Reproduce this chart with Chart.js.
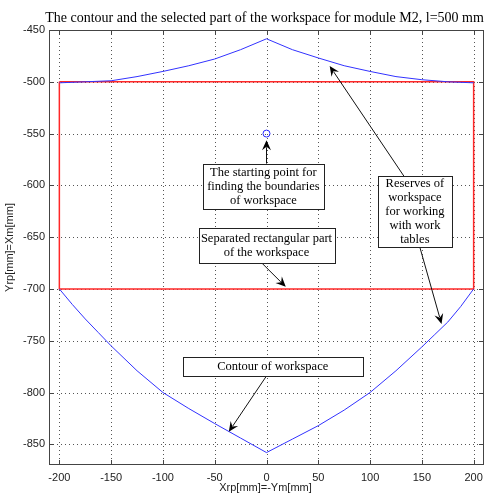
<!DOCTYPE html>
<html>
<head>
<meta charset="utf-8">
<script src="https://cdn.jsdelivr.net/npm/chart.js@4/dist/chart.umd.min.js"></script>
<style>
  html, body { margin: 0; padding: 0; background: #fff; }
  canvas { display: block; }
</style>
</head>
<body>
<canvas id="c" width="484" height="493"></canvas>
<script>
// Axis ticks
const xTicks = [-200, -150, -100, -50, 0, 50, 100, 150, 200];
const yTicks = [-850, -800, -750, -700, -650, -600, -550, -500, -450];

// Lower branch of the workspace contour
const lowerX = [-200, -187.5, -175, -162.5, -150, -125, -100, -75, -50, -25, 0, 25, 50, 75, 100, 125, 150, 162.5, 175, 187.5, 200];
const lowerY = [-700, -715, -729, -742, -755, -779, -800, -815.5, -830, -844, -858, -845, -832, -817, -800, -779, -756, -744, -732, -717, -700];

// Upper branch of the workspace contour
const upperX = [-200, -175, -150, -125, -100, -75, -50, -25, 0, 25, 50, 75, 100, 125, 150, 175, 200];
const upperY = [-501, -500, -499, -495, -490, -484.5, -478, -469, -458.5, -469, -477, -484.5, -490, -495, -498, -500, -501];

// Selected rectangular part of the workspace
const rectX = [-200, 200, 200, -200, -200];
const rectY = [-500, -500, -700, -700, -500];

// Starting point for the boundary search
const startX = [0];
const startY = [-550];

const pts = (xs, ys) => xs.map((x, i) => ({ x: x, y: ys[i] }));

// Text boxes: centre in data units, size in pixels
const notes = [
  { cx: -3, cy: -601, w: 121, h: 45, lines: ['The starting point for', 'finding the boundaries', 'of workspace'] },
  { cx: 0, cy: -658, w: 136, h: 35, lines: ['Separated rectangular part', 'of the workspace'] },
  { cx: 143.3, cy: -625, w: 74, h: 71, lines: ['Reserves of', 'workspace', 'for working', 'with work', 'tables'] },
  { cx: 6, cy: -775, w: 180, h: 19, lines: ['Contour of workspace'] }
];
// Arrows: from -> to, in data units
const arrows = [
  { x0: 0, y0: -579, x1: 0, y1: -556.5 },
  { x0: -4.5, y0: -675, x1: 18.6, y1: -698 },
  { x0: 132.6, y0: -591, x1: 61, y1: -484.7 },
  { x0: 148, y0: -659.5, x1: 169, y1: -733.8 },
  { x0: 0, y0: -784, x1: -36.4, y1: -838 }
];

const SERIF = '"Liberation Serif", "Times New Roman", serif';
const SANS = '"Liberation Sans", Arial, sans-serif';

const frame = {
  id: 'frame',
  beforeDatasetsDraw(chart) {
    const { ctx, chartArea: a, scales: { x, y } } = chart;
    ctx.save();
    ctx.strokeStyle = '#555';
    ctx.lineWidth = 1;
    ctx.setLineDash([1, 3]);
    xTicks.forEach(v => {
      const px = Math.round(x.getPixelForValue(v)) + 0.5;
      ctx.beginPath(); ctx.moveTo(px, a.top); ctx.lineTo(px, a.bottom); ctx.stroke();
    });
    yTicks.forEach(v => {
      const py = Math.round(y.getPixelForValue(v)) + 0.5;
      ctx.beginPath(); ctx.moveTo(a.left, py); ctx.lineTo(a.right, py); ctx.stroke();
    });
    ctx.restore();
  },
  afterDatasetsDraw(chart) {
    const { ctx, chartArea: a, scales: { x, y } } = chart;
    ctx.save();
    // axes box and inward ticks
    ctx.strokeStyle = '#444';
    ctx.lineWidth = 1;
    ctx.setLineDash([]);
    ctx.strokeRect(a.left + 0.5, a.top + 0.5, a.right - a.left - 1, a.bottom - a.top - 1);
    const tl = 5;
    ctx.beginPath();
    xTicks.forEach(v => {
      const px = Math.round(x.getPixelForValue(v)) + 0.5;
      ctx.moveTo(px, a.bottom); ctx.lineTo(px, a.bottom - tl);
      ctx.moveTo(px, a.top); ctx.lineTo(px, a.top + tl);
    });
    yTicks.forEach(v => {
      const py = Math.round(y.getPixelForValue(v)) + 0.5;
      ctx.moveTo(a.left, py); ctx.lineTo(a.left + tl, py);
      ctx.moveTo(a.right, py); ctx.lineTo(a.right - tl, py);
    });
    ctx.stroke();

    // arrows
    ctx.strokeStyle = '#111';
    ctx.fillStyle = '#000';
    arrows.forEach(ar => {
      const x0 = x.getPixelForValue(ar.x0), y0 = y.getPixelForValue(ar.y0);
      const x1 = x.getPixelForValue(ar.x1), y1 = y.getPixelForValue(ar.y1);
      const ang = Math.atan2(y1 - y0, x1 - x0);
      const L = 10, W = 4.5;
      const bx = x1 - L * Math.cos(ang), by = y1 - L * Math.sin(ang);
      ctx.beginPath(); ctx.moveTo(x0, y0); ctx.lineTo(bx + 3 * Math.cos(ang), by + 3 * Math.sin(ang)); ctx.stroke();
      const nx = -Math.sin(ang), ny = Math.cos(ang);
      ctx.beginPath();
      ctx.moveTo(x1, y1);
      ctx.lineTo(bx + nx * W, by + ny * W);
      ctx.lineTo(x1 - 0.65 * L * Math.cos(ang), y1 - 0.65 * L * Math.sin(ang));
      ctx.lineTo(bx - nx * W, by - ny * W);
      ctx.closePath();
      ctx.fill();
    });

    // text boxes
    ctx.font = '12.5px ' + SERIF;
    ctx.textAlign = 'center';
    ctx.textBaseline = 'middle';
    notes.forEach(n => {
      const cx = x.getPixelForValue(n.cx), cy = y.getPixelForValue(n.cy);
      const l = Math.round(cx - n.w / 2) + 0.5, t = Math.round(cy - n.h / 2) + 0.5;
      ctx.fillStyle = '#fff';
      ctx.fillRect(l, t, n.w, n.h);
      ctx.strokeStyle = '#222';
      ctx.strokeRect(l, t, n.w, n.h);
      ctx.fillStyle = '#000';
      const lh = 14;
      const start = cy - (n.lines.length - 1) * lh / 2;
      n.lines.forEach((s, i) => ctx.fillText(s, cx, start + i * lh + 0.5));
    });

    // title and axis labels
    const mid = (a.left + a.right) / 2;
    ctx.fillStyle = '#000';
    ctx.font = '14px ' + SERIF;
    ctx.textBaseline = 'alphabetic';
    ctx.fillText('The contour and the selected part of the workspace for module M2, l=500 mm', mid - 2, 22);
    ctx.fillStyle = '#222';
    ctx.font = '11px ' + SANS;
    ctx.textBaseline = 'middle';
    ctx.fillText('Xrp[mm]=-Ym[mm]', mid - 1, 488);
    ctx.save();
    ctx.translate(10, (a.top + a.bottom) / 2);
    ctx.rotate(-Math.PI / 2);
    ctx.fillText('Yrp[mm]=Xm[mm]', 0, 0);
    ctx.restore();
    ctx.restore();
  }
};

const tickFont = { family: SANS, size: 11 };

new Chart(document.getElementById('c'), {
  type: 'scatter',
  data: {
    datasets: [
      { data: pts(lowerX, lowerY), showLine: true, borderColor: 'rgb(50,50,255)', borderWidth: 1, pointRadius: 0, tension: 0, fill: false },
      { data: pts(upperX, upperY), showLine: true, borderColor: 'rgb(50,50,255)', borderWidth: 1, pointRadius: 0, tension: 0, fill: false },
      { data: pts(rectX, rectY), showLine: true, borderColor: 'rgb(255,40,40)', borderWidth: 1.5, pointRadius: 0, tension: 0, fill: false },
      { data: pts(startX, startY), showLine: false, pointRadius: 3.5, pointStyle: 'circle', borderColor: 'rgb(40,40,255)', backgroundColor: 'rgba(0,0,0,0)', borderWidth: 1 }
    ]
  },
  options: {
    responsive: false,
    animation: false,
    devicePixelRatio: 1,
    layout: { autoPadding: false, padding: { top: 30, right: 0, left: 0, bottom: 0 } },
    plugins: { legend: { display: false }, tooltip: { enabled: false }, title: { display: false } },
    scales: {
      x: {
        type: 'linear', min: -210, max: 210,
        afterBuildTicks: s => { s.ticks = xTicks.map(v => ({ value: v })); },
        afterFit: s => { s.height = 28; s.paddingLeft = 0; s.paddingRight = 0; },
        grid: { display: false, drawTicks: false, tickLength: 0 }, border: { display: false },
        ticks: { padding: 6, color: '#222', font: tickFont, maxRotation: 0, autoSkip: false }
      },
      y: {
        type: 'linear', min: -870, max: -450,
        afterBuildTicks: s => { s.ticks = yTicks.map(v => ({ value: v })); },
        afterFit: s => { s.width = 49; s.paddingTop = 0; s.paddingBottom = 0; },
        grid: { display: false, drawTicks: false, tickLength: 0 }, border: { display: false },
        ticks: { padding: 4, color: '#222', font: tickFont, autoSkip: false }
      }
    }
  },
  plugins: [frame]
});
</script>
</body>
</html>
